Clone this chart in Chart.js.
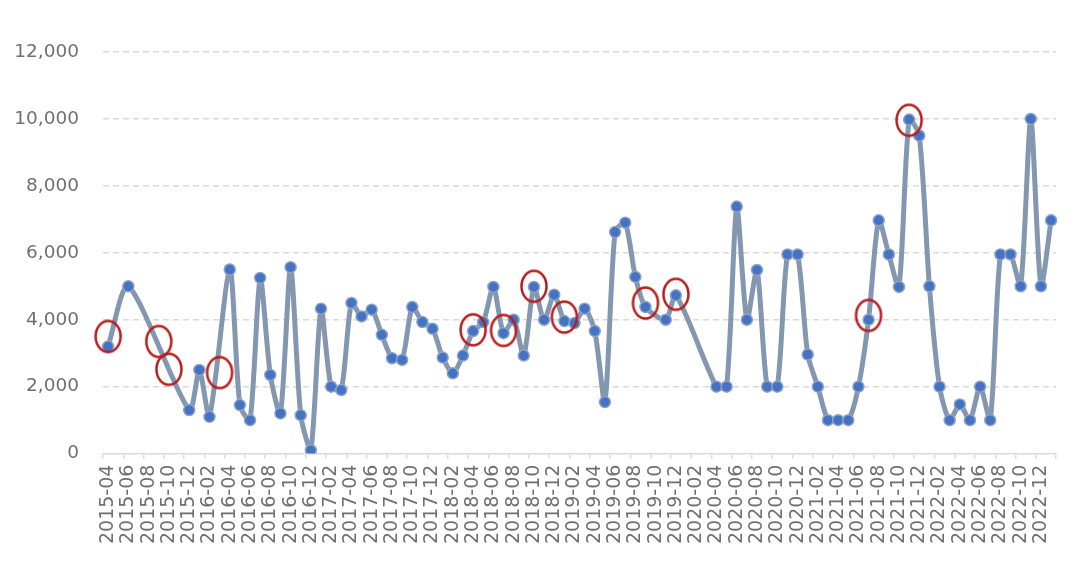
<!DOCTYPE html>
<html>
<head>
<meta charset="utf-8">
<script src="https://cdn.jsdelivr.net/npm/chart.js@4.4.1/dist/chart.umd.min.js"></script>
<style>
  html, body { margin: 0; padding: 0; background: #fff; }
</style>
</head>
<body>
<canvas id="chartMonthly" width="1080" height="572"></canvas>
<script>
// monthly categories, 2015-04 .. 2023-01
var months = [
  '2015-04','2015-05','2015-06','2015-07','2015-08','2015-09','2015-10','2015-11','2015-12',
  '2016-01','2016-02','2016-03','2016-04','2016-05','2016-06','2016-07','2016-08','2016-09','2016-10','2016-11','2016-12',
  '2017-01','2017-02','2017-03','2017-04','2017-05','2017-06','2017-07','2017-08','2017-09','2017-10','2017-11','2017-12',
  '2018-01','2018-02','2018-03','2018-04','2018-05','2018-06','2018-07','2018-08','2018-09','2018-10','2018-11','2018-12',
  '2019-01','2019-02','2019-03','2019-04','2019-05','2019-06','2019-07','2019-08','2019-09','2019-10','2019-11','2019-12',
  '2020-01','2020-02','2020-03','2020-04','2020-05','2020-06','2020-07','2020-08','2020-09','2020-10','2020-11','2020-12',
  '2021-01','2021-02','2021-03','2021-04','2021-05','2021-06','2021-07','2021-08','2021-09','2021-10','2021-11','2021-12',
  '2022-01','2022-02','2022-03','2022-04','2022-05','2022-06','2022-07','2022-08','2022-09','2022-10','2022-11','2022-12',
  '2023-01'
]

// null = no value that month (line spans the gap)
var values = [
  3200, null, 5000, null, null, null, null, null, 1300,
  2500, 1100, null, 5500, 1450, 1000, 5250, 2350, 1200, 5570, 1150, 100,
  4330, 2000, 1900, 4500, 4100, 4300, 3550, 2850, 2800, 4380, 3930, 3730,
  2870, 2400, 2930, 3660, 3930, 4980, 3600, 4000, 2930, 4980, 4000, 4750,
  3960, 3900, 4330, 3660, 1540, 6620, 6900, 5280, 4380, null, 4000, 4730,
  null, null, null, 2000, 2000, 7380, 4000, 5490, 2000, 2000, 5950, 5950,
  2960, 2000, 1000, 1000, 1000, 2000, 4000, 6970, 5950, 4980, 9980, 9500,
  5000, 2000, 1000, 1470, 1000, 2000, 1000, 5950, 5950, 5000, 10000, 5000,
  6970
]

// red rings drawn on the chart
var markMonths = ['2015-04','2015-09','2015-10','2016-03','2018-04','2018-07','2018-10','2019-01','2019-09','2019-12','2021-07','2021-11']
var markValues = [3500, 3350, 2520, 2420, 3700, 3680, 5000, 4080, 4500, 4760, 4130, 9960]

var yTicks = [0, 2000, 4000, 6000, 8000, 10000, 12000]

var marks = markMonths.map(function(m, i){
  return { x: m, y: markValues[i] }
})

// ellipse used as point style for the rings
var ring = document.createElement('canvas')
ring.width = 32
ring.height = 38
var rctx = ring.getContext('2d')
rctx.strokeStyle = '#B81C1C'
rctx.lineWidth = 2.5
rctx.beginPath()
rctx.ellipse(16, 19, 12.5, 15.5, 0, 0, Math.PI * 2)
rctx.stroke()

var textColor = '#707070'
var gridColor = '#d9d9d9'

var ctx = document.getElementById('chartMonthly')

var chartMonthly = new Chart(ctx, {
  type: 'line',
  data: {
    labels: months,
    datasets: [{
      data: marks,
      showLine: false,
      pointStyle: ring,
      pointRadius: 12,
      pointHoverRadius: 12,
      order: 0
    }, {
      data: values,
      spanGaps: true,
      tension: 0.25,
      borderColor: '#8497B0',
      borderWidth: 5,
      pointRadius: 5.5,
      pointHoverRadius: 5.5,
      pointBorderWidth: 1.5,
      pointBackgroundColor: '#4472C4',
      pointBorderColor: '#8FA2C4',
      order: 1
    }]
  },
  options: {
    responsive: false,
    animation: false,
    events: [],
    layout: {
      padding: { top: 52, right: 23, bottom: 22, left: 14 }
    },
    plugins: {
      legend: { display: false },
      tooltip: { enabled: false }
    },
    scales: {
      x: {
        offset: true,
        border: { color: gridColor, width: 1.5 },
        grid: {
          offset: true,
          drawOnChartArea: false,
          tickLength: 5,
          lineWidth: 1.5,
          color: function(c){
            return (c.index === undefined || c.index % 2 === 0) ? gridColor : 'rgba(0,0,0,0)'
          }
        },
        ticks: {
          autoSkip: false,
          maxRotation: 90,
          minRotation: 90,
          padding: 6,
          color: textColor,
          font: { family: 'DejaVu Sans', size: 19 },
          callback: function(v, i){
            return i % 2 === 0 ? months[i] : ''
          }
        }
      },
      y: {
        min: 0,
        max: 12000,
        border: { display: false, dash: [6, 4] },
        afterBuildTicks: function(axis){
          axis.ticks = yTicks.map(function(v){ return { value: v } })
        },
        afterFit: function(axis){
          axis.width = 89
        },
        grid: {
          drawTicks: false,
          lineWidth: 1.5,
          color: function(c){
            return c.tick && c.tick.value === 0 ? 'rgba(0,0,0,0)' : gridColor
          }
        },
        ticks: {
          padding: 24,
          color: textColor,
          font: { family: 'DejaVu Sans', size: 18.5 },
          callback: function(v){
            return v.toLocaleString('en-US')
          }
        }
      }
    }
  }
});
</script>
</body>
</html>
